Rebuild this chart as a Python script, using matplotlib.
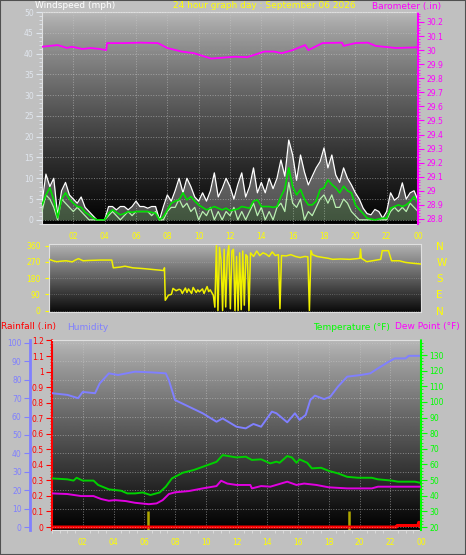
import numpy as np
import matplotlib
matplotlib.use("Agg")
import matplotlib.pyplot as plt
from matplotlib.ticker import MultipleLocator, FixedLocator
from matplotlib.patches import Rectangle

ANCHO, ALTO = 466, 555

# ---------------------------------------------------------------------------
# Datos
# ---------------------------------------------------------------------------

# viento, una muestra cada 15 min de 00:00 a 24:00
horas_viento = np.arange(0, 24.01, 0.25)
racha = [4, 11, 8, 10, 1, 7, 9, 6,
         5, 4, 5.5, 3, 2, 1, 0, 0,
         0, 3.2, 3.2, 2.4, 3.2, 3.2, 2.4, 3.2,
         4.5, 3.2, 3.2, 2.8, 3.2, 3.2, 0, 3.2,
         6, 4.5, 7, 10, 6.5, 10, 8, 5.5,
         4.5, 6.5, 4.5, 7, 11.3, 5.5, 7.5, 10,
         8, 5, 8.5, 11.3, 5.5, 8, 12.5, 6.5,
         9, 6.5, 10, 7.5, 10, 14.4, 10.5, 19.2,
         15.6, 9.5, 15.6, 11.5, 8.4, 10.5, 12.5, 14,
         17.3, 12.5, 15.6, 10.8, 9, 12.5, 10, 8.4,
         6.5, 5, 2.8, 1.5, 1.2, 2.5, 2, 0.4,
         2, 6.5, 4.7, 5.5, 8.9, 5, 6.5, 7,
         4.7]
velocidad = [2, 6, 5, 3, 0, 5, 4, 3,
             2, 3, 2, 1, 0, 0, 0, 0,
             0, 1, 2, 1, 0, 1, 2, 1,
             2, 2, 2, 2, 1, 2, 0, 0,
             2, 3, 3, 5, 3, 4, 2, 3,
             0, 2, 1, 3, 0, 2, 0, 2,
             1, 3, 0, 2, 0, 2, 4, 1,
             3, 0, 2, 0, 3, 4, 2, 9,
             4, 3, 5, 0, 2, 1, 3, 5,
             6, 4, 6, 3, 3, 5, 4, 2,
             1, 0, 0, 0, 0, 0, 0, 0,
             0, 2, 3, 2, 3, 2, 4, 3,
             2]
media = [3.6, 6, 7.7, 4.8, 0.5, 5, 6.5, 5,
         4, 3.2, 3, 1.8, 1.2, 0.5, 0, 0,
         0, 1.6, 2.4, 1.8, 1.2, 1.5, 2, 1.8,
         2, 2, 2, 2, 1.8, 1.6, 0, 0.8,
         2.4, 4, 4.5, 4.8, 6.5, 4.8, 5.6, 4.5,
         3.6, 3, 2.4, 2.8, 3.2, 2.8, 2.4, 2.8,
         2.2, 2.4, 2.6, 3.2, 3, 2.8, 4.5, 4.8,
         3.2, 3.2, 3.2, 3, 3.2, 5.6, 7.5, 12.5,
         8, 6, 7.3, 5, 3.6, 3.6, 4.5, 7.3,
         7.7, 9.6, 8.5, 7.7, 6.5, 8.1, 7, 6.5,
         3.6, 2.5, 1.5, 0.4, 0.2, 0, 0.2, 0.4,
         0.4, 2.8, 3.2, 3.6, 3.2, 3.6, 4.4, 5.6,
         4]

horas_baro = [0, 1.0, 1.6, 1.9, 2.6, 3.1, 3.7, 4.1, 4.15, 5.2, 6.3, 7.4,
              8.0, 8.9, 9.7, 10.8, 12.3, 13.1, 14.2, 14.8, 15.3, 16.0, 16.8,
              17.0, 17.9, 19.15, 19.25, 20.0, 20.8, 21.3, 22.6, 24]
barometro = [30.024, 30.036, 30.015, 30.024, 30.008, 30.015, 30.008, 30.0,
             30.05, 30.05, 30.053, 30.05, 30.015, 29.99, 29.978, 29.94,
             29.953, 29.95, 29.99, 29.99, 29.978, 30.0, 30.036, 30.0, 30.05,
             30.053, 30.03, 30.05, 30.053, 30.03, 30.015, 30.02]

horas_dir = [0, 0.3, 0.5, 0.8, 1.1, 1.5, 1.7, 1.9, 2.2, 2.6, 3.0, 3.3, 3.7,
             4.05, 4.15, 4.6, 4.9, 5.4, 5.9, 6.3, 6.9, 7.4, 7.45, 7.5, 7.6,
             7.7, 7.9, 8.0, 8.2, 8.4, 8.5, 8.6, 8.8, 8.9, 9.0, 9.2, 9.3, 9.5,
             9.6, 9.7, 9.9, 10.0, 10.2, 10.3, 10.4, 10.6, 10.7, 10.8, 10.9,
             11.0, 11.1, 11.2, 11.3, 11.4, 11.5, 11.6, 11.7, 11.8, 11.9, 12.0,
             12.1, 12.2, 12.3, 12.4, 12.5, 12.6, 12.7, 12.8, 12.9, 13.0, 13.2,
             13.4, 13.6, 13.8, 14.0, 14.2, 14.4, 14.6, 14.8, 14.9, 15.0, 15.3,
             15.6, 15.9, 16.2, 16.5, 16.7, 16.8, 16.9, 17.0, 17.3, 17.7, 18.0,
             18.3, 18.8, 19.4, 19.9, 20.05, 20.1, 20.15, 20.5, 21.0, 21.4,
             21.5, 21.9, 22.1, 22.6, 23.0, 23.5, 24]
direccion = [284, 275, 271, 274, 276, 270, 280, 288, 276, 278, 279, 280, 280,
             280, 237, 241, 246, 237, 234, 231, 226, 222, 237, 57, 70,
             85, 90, 123, 110, 118, 114, 95, 125, 100, 120, 95, 128, 100,
             115, 104, 120, 95, 133, 105, 115, 85, 19, 360, 0,
             350, 280, 0, 340, 20, 300, 360, 10, 330, 340, 0,
             300, 0, 320, 5, 330, 30, 310, 300, 0, 320, 300,
             330, 305, 320, 313, 300, 325, 305, 310, 10, 305, 303,
             310, 300, 294, 300, 298, 0, 332, 310, 300, 294, 290,
             284, 286, 284, 288, 290, 341, 290, 271, 278, 284,
             332, 332, 276, 276, 267, 262, 258]

horas_hum = [0, 1, 1.7, 2, 2.8, 3.1, 3.7, 4.3, 5.4, 6.5, 7.4, 7.6, 8.0, 8.9,
             9.8, 10.7, 11.1, 12, 12.6, 13.1, 13.6, 14.3, 14.6, 15.3, 15.8,
             16.1, 16.5, 16.8, 17.1, 17.7, 18.1, 18.6, 19.2, 20.1, 20.7, 21.2,
             21.9, 22.3, 23, 23.2, 24]
humedad = [72.7, 71.8, 70, 73.4, 72.7, 78, 83.5, 82.6, 84.4, 84, 83.5, 79.8,
           69, 65.4, 61.8, 57.2, 59, 54.5, 53.6, 56, 54.5, 62.7, 61.8, 56.9,
           61.8, 58.2, 60.9, 69, 71.4, 69.5, 70.8, 76.3, 81.7, 82.6, 83.5,
           86.2, 89.8, 91.6, 91.6, 93, 93]

horas_temp = [0, 1, 1.4, 1.6, 2, 2.7, 3, 3.7, 4.5, 4.9, 5.4, 5.9, 6.4, 7, 7.4,
              7.8, 8.5, 9.2, 9.8, 10.7, 11.1, 12, 12.6, 13, 13.6, 14.2, 14.6,
              14.8, 15.3, 15.6, 15.9, 16.1, 16.6, 16.9, 17.5, 18, 18.6, 19.2,
              19.9, 20.8, 21.2, 22.1, 22.5, 23.6, 23.9, 24]
temperatura = [51.1, 50.5, 49.7, 51.5, 49.7, 49.7, 46.9, 44.1, 43.2, 41.5,
               41.5, 42.1, 40.5, 42.1, 45.8, 51.1, 54.7, 56.4, 58.5, 61.7,
               66, 64.5, 65, 62.9, 63.3, 60.7, 61.8, 61.1, 65.4, 64.5,
               61.1, 63.3, 61.1, 57.5, 57.9, 55.9, 54.3, 52.1, 51.5, 51.5,
               50.5, 49.7, 49, 49, 48.4, 48.4]

horas_rocio = [0, 1, 1.9, 2.7, 3.2, 3.7, 4.1, 4.8, 5.4, 6.3, 6.8, 7.2, 7.6,
               8.0, 8.9, 9.8, 10.7, 11.0, 11.4, 12, 12.9, 13, 13.6, 14.2, 15.3,
               15.9, 16.4, 17.2, 18.0, 19.2, 20.8, 21.2, 24]
rocio = [41.5, 41.1, 39.8, 39.8, 37.9, 36.8, 37.2, 36.6, 35.5, 34.6, 35.1,
         37.2, 41.1, 42.2, 43, 44.7, 46.2, 49.6, 47.8, 46.9, 46.9, 44.7, 46.2,
         45.8, 49, 46.9, 47.8, 46.9, 45.4, 44.7, 44.7, 45.8, 45.8]

horas_lluvia = [0, 22.4, 22.45, 23.8, 23.85, 23.9, 23.95, 24]
lluvia = [0, 0, 0.01, 0.01, 0.03, 0.03, 0.0, 0.0]

horas_tasa = [6.25, 19.3]
tasa = [0.1, 0.1]

ticks_horas = [2, 4, 6, 8, 10, 12, 14, 16, 18, 20, 22, 24]
etiquetas_horas = ["02", "04", "06", "08", "10", "12", "14", "16", "18",
                   "20", "22", "00"]
ticks_baro = [28.8, 28.9, 29.0, 29.1, 29.2, 29.3, 29.4, 29.5, 29.6, 29.7,
              29.8, 29.9, 30.0, 30.1, 30.2]
ticks_dir = [0, 90, 180, 270, 360]
etiquetas_dir = ["N", "E", "S", "W", "N"]
ticks_lluvia = [0, 0.1, 0.2, 0.3, 0.4, 0.5, 0.6, 0.7, 0.8, 0.9, 1.0, 1.1, 1.2]
ticks_hum = [0, 10, 20, 30, 40, 50, 60, 70, 80, 90, 100]
ticks_temp = [20, 30, 40, 50, 60, 70, 80, 90, 100, 110, 120, 130]

# ---------------------------------------------------------------------------

GRIS = "#c0c0c0"
AMARILLO = "#ffff00"
MAGENTA = "#ff00ff"
AZUL = "#8080ff"
VERDE = "#00ff00"
ROJO = "#ff0000"
FS_TICK = 5.5
FS_TIT = 6.5


def caja(x0, y0, x1, y1):
    return [x0 / ANCHO, 1 - y1 / ALTO, (x1 - x0) / ANCHO, (y1 - y0) / ALTO]


def texto(fig, x, y, s, color, **kw):
    fig.text(x / ANCHO, 1 - y / ALTO, s, color=color, fontsize=FS_TIT,
             ha="left", va="center", **kw)


def degradado(ax, arriba, abajo, gamma=1.0):
    g = np.linspace(0, 1, 256) ** gamma
    col = arriba + (abajo - arriba) * g
    ax.imshow(col.reshape(-1, 1), extent=[0, 1, 0, 1],
              transform=ax.transAxes, cmap="gray", vmin=0, vmax=1,
              aspect="auto", zorder=0, interpolation="bilinear")


def rejilla(ax, eje="both"):
    ax.grid(True, axis=eje, color="#c8c8c8", ls=":", lw=0.7, alpha=0.55)
    ax.set_axisbelow(False)


def ejes_horas(ax, etiquetas=True):
    ax.set_xlim(0, 24)
    ax.xaxis.set_major_locator(FixedLocator(ticks_horas))
    if etiquetas:
        ax.set_xticklabels(etiquetas_horas)
    else:
        ax.set_xticklabels([])
    ax.tick_params(axis="x", colors=AMARILLO, labelsize=FS_TICK, length=0,
                   pad=6)


fig = plt.figure(figsize=(ANCHO / 100, ALTO / 100), dpi=100, facecolor=GRIS)

# ---------------- viento + barómetro ----------------
ax1 = fig.add_axes(caja(42, 12, 418, 224))
degradado(ax1, 0.73, 0.0, gamma=0.8)
ax1.fill_between(horas_viento, velocidad, racha, color="white", alpha=0.3,
                 lw=0, zorder=2)
ax1.plot(horas_viento, racha, color="white", lw=0.9, zorder=3)
ax1.fill_between(horas_viento, 0, velocidad, color="#b8f0b0", alpha=0.35,
                 lw=0, zorder=3)
ax1.plot(horas_viento, velocidad, color="#b8f0b0", lw=0.9, zorder=4)
ax1.plot(horas_viento, media, color="#00e000", lw=1.2, zorder=5)
ejes_horas(ax1)
ax1.set_ylim(-1, 50)
ax1.yaxis.set_major_locator(MultipleLocator(5))
ax1.yaxis.set_minor_locator(MultipleLocator(1))
ax1.tick_params(axis="y", which="both", colors="#e0e6ee",
                labelsize=FS_TICK, pad=2)
ax1.tick_params(axis="y", which="major", length=4)
ax1.tick_params(axis="y", which="minor", length=2)
rejilla(ax1)
for lado in ["top", "bottom", "left", "right"]:
    ax1.spines[lado].set_color("#e0e0e0")
    ax1.spines[lado].set_linewidth(0.8)

ax1b = ax1.twinx()
ax1b.plot(horas_baro, barometro, color=MAGENTA, lw=1.3)
ax1b.set_ylim(28.764, 30.271)
ax1b.yaxis.set_major_locator(FixedLocator(ticks_baro))
ax1b.set_yticklabels([f"{t:g}" for t in ticks_baro])
ax1b.yaxis.set_minor_locator(MultipleLocator(0.02))
ax1b.tick_params(axis="y", which="both", colors=MAGENTA, labelsize=FS_TICK,
                 pad=2)
ax1b.tick_params(axis="y", which="major", length=4)
ax1b.tick_params(axis="y", which="minor", length=1.5)
ax1b.spines["right"].set_color(MAGENTA)
ax1b.spines["right"].set_linestyle((0, (1, 1)))
ax1b.spines["right"].set_linewidth(1.5)
for lado in ["top", "bottom", "left"]:
    ax1b.spines[lado].set_visible(False)

# ---------------- dirección del viento ----------------
ax2 = fig.add_axes(caja(49, 244, 421, 312))
degradado(ax2, 0.70, 0.04)
ax2.plot(horas_dir, direccion, color="#f0f000", lw=1.1, zorder=3)
ejes_horas(ax2, etiquetas=False)
ax2.set_ylim(-8, 369)
ax2.yaxis.set_major_locator(FixedLocator(ticks_dir))
ax2.tick_params(axis="y", colors=AMARILLO, labelsize=FS_TICK, length=3,
                pad=3)
ax2.grid(True, axis="y", color="#c8c8c8", ls=":", lw=0.6, alpha=0.4)
for lado in ["top", "bottom", "left", "right"]:
    ax2.spines[lado].set_color("#e0e0e0")
    ax2.spines[lado].set_linewidth(0.8)

ax2b = ax2.twinx()
ax2b.set_ylim(-8, 369)
ax2b.yaxis.set_major_locator(FixedLocator(ticks_dir))
ax2b.set_yticklabels(etiquetas_dir)
ax2b.tick_params(axis="y", colors=AMARILLO, labelsize=7.5, length=0, pad=11)
for lado in ["top", "bottom", "left", "right"]:
    ax2b.spines[lado].set_visible(False)

# ---------------- lluvia, humedad, temperatura ----------------
ax3 = fig.add_axes(caja(52, 340, 421, 530))
degradado(ax3, 0.72, 0.0, gamma=0.9)
ax3.set_ylim(-0.019, 1.203)
ax3.vlines(horas_tasa, -0.019, tasa, color="#b0a800", lw=1.8, zorder=2)
ax3.plot(horas_lluvia, lluvia, color=ROJO, lw=2.2, zorder=6)
ejes_horas(ax3)
ax3.xaxis.set_minor_locator(MultipleLocator(0.5))
ax3.tick_params(axis="x", which="minor", colors="#e0e0e0", length=2)
ax3.yaxis.set_major_locator(FixedLocator(ticks_lluvia))
ax3.set_yticklabels([f"{t:g}" for t in ticks_lluvia])
ax3.yaxis.set_minor_locator(MultipleLocator(0.02))
ax3.tick_params(axis="y", which="both", colors=ROJO, labelsize=FS_TICK,
                pad=2)
ax3.tick_params(axis="y", which="major", length=4)
ax3.tick_params(axis="y", which="minor", length=1.5)
ax3.grid(True, axis="x", color="#c8c8c8", ls=":", lw=0.7, alpha=0.55)
ax3.spines["left"].set_color(ROJO)
ax3.spines["left"].set_linestyle((0, (1, 1)))
ax3.spines["left"].set_linewidth(1.5)
for lado in ["top", "bottom", "right"]:
    ax3.spines[lado].set_color("#e0e0e0")
    ax3.spines[lado].set_linewidth(0.8)

ax3h = ax3.twinx()
ax3h.plot(horas_hum, humedad, color=AZUL, lw=1.4, zorder=3)
ax3h.set_ylim(-1.6, 101.6)
ax3h.yaxis.tick_left()
ax3h.yaxis.set_major_locator(FixedLocator(ticks_hum))
ax3h.tick_params(axis="y", colors=AZUL, labelsize=FS_TICK, length=4, pad=2)
ax3h.grid(True, axis="y", color="#c8c8c8", ls=":", lw=0.7, alpha=0.55)
ax3h.spines["left"].set_visible(True)
ax3h.spines["left"].set_position(("axes", -22 / 369))
ax3h.spines["left"].set_color(AZUL)
ax3h.spines["left"].set_linewidth(2)
for lado in ["top", "bottom", "right"]:
    ax3h.spines[lado].set_visible(False)

ax3t = ax3.twinx()
ax3t.plot(horas_temp, temperatura, color="#00d000", lw=1.4, zorder=4)
ax3t.plot(horas_rocio, rocio, color="#e000e0", lw=1.4, zorder=4)
ax3t.set_ylim(18.1, 139.6)
ax3t.yaxis.set_major_locator(FixedLocator(ticks_temp))
ax3t.yaxis.set_minor_locator(MultipleLocator(2))
ax3t.tick_params(axis="y", which="both", colors=VERDE, labelsize=FS_TICK,
                 pad=2)
ax3t.tick_params(axis="y", which="major", length=4)
ax3t.tick_params(axis="y", which="minor", length=1.5)
ax3t.spines["right"].set_color(VERDE)
ax3t.spines["right"].set_linestyle((0, (1, 1)))
ax3t.spines["right"].set_linewidth(1.5)
for lado in ["top", "bottom", "left"]:
    ax3t.spines[lado].set_visible(False)

# ---------------- textos ----------------
texto(fig, 35, 6, "Windspeed (mph)", "white")
texto(fig, 173, 6, "24 hour graph day : September 06 2026", AMARILLO)
texto(fig, 372, 6, "Barometer (.in)", MAGENTA)
texto(fig, 1, 327, "Rainfall (.in)", ROJO)
texto(fig, 67, 327, "Humidity", AZUL)
texto(fig, 313, 327, "Temperature (°F)", VERDE)
texto(fig, 395, 327, "Dew Point (°F)", MAGENTA)

fig.patches.append(Rectangle((0, 0), 1, 1, transform=fig.transFigure,
                             fill=False, edgecolor="#505050", lw=1.5))

fig.savefig("out.png", dpi=100, facecolor=GRIS)
